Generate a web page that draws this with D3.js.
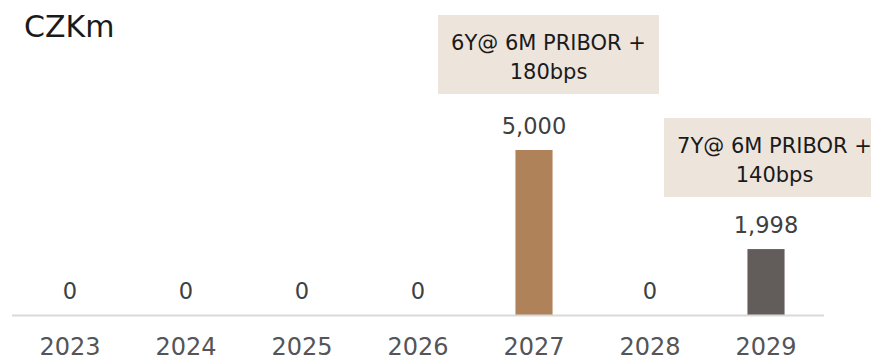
<!DOCTYPE html>
<html>
<head>
<meta charset="utf-8">
<script src="https://cdn.jsdelivr.net/npm/d3@7"></script>
<style>
  html, body { margin: 0; padding: 0; background: #fff; }
  svg { display: block; font-family: "DejaVu Sans", sans-serif; }
</style>
</head>
<body>
<svg id="chart" width="871" height="361"></svg>
<script>
// Maturity profile data (CZK millions)
const years = ["2023", "2024", "2025", "2026", "2027", "2028", "2029"];
const amounts = [0, 0, 0, 0, 5000, 0, 1998];
const barColors = ["#b08259", "#b08259", "#b08259", "#b08259", "#b08259", "#b08259", "#625d5b"];
const unitLabel = "CZKm";

// Note boxes attached to the issued bonds
const noteYears = ["2027", "2029"];
const noteLines = [
  ["6Y@ 6M PRIBOR +", "180bps"],
  ["7Y@ 6M PRIBOR +", "140bps"]
];

const svg = d3.select("#chart");
const baseY = 315;

const x = d3.scaleBand()
  .domain(years)
  .range([12, 824])
  .paddingInner(0.68)
  .paddingOuter(0.34);

const y = d3.scaleLinear()
  .domain([0, 5000])
  .range([baseY, 150]);

const fmt = d3.format(",");

// Unit title
svg.append("text")
  .attr("x", 24).attr("y", 37)
  .attr("font-size", 30)
  .attr("fill", "#1a1a1a")
  .text(unitLabel);

// Bars
svg.append("g").selectAll("rect")
  .data(years)
  .join("rect")
  .attr("x", d => x(d))
  .attr("width", x.bandwidth())
  .attr("y", (d, i) => y(amounts[i]))
  .attr("height", (d, i) => baseY - y(amounts[i]))
  .attr("fill", (d, i) => barColors[i]);

// Baseline
svg.append("line")
  .attr("x1", 12).attr("x2", 824)
  .attr("y1", baseY + 0.5).attr("y2", baseY + 0.5)
  .attr("stroke", "#d9d9d9")
  .attr("stroke-width", 2);

// Value labels
svg.append("g").selectAll("text")
  .data(years)
  .join("text")
  .attr("x", d => x(d) + x.bandwidth() / 2)
  .attr("y", (d, i) => y(amounts[i]) - 16)
  .attr("text-anchor", "middle")
  .attr("font-size", 22.5)
  .attr("fill", "#404040")
  .text((d, i) => fmt(amounts[i]));

// Category axis
const xAxis = svg.append("g")
  .attr("transform", `translate(0,${baseY})`)
  .call(d3.axisBottom(x).tickSize(0).tickPadding(0));
xAxis.select(".domain").remove();
xAxis.selectAll("text")
  .attr("dy", null)
  .attr("y", 40)
  .attr("font-size", 24)
  .attr("font-family", "DejaVu Sans, sans-serif")
  .attr("fill", "#555555");

// Note boxes above the bars
const noteLayout = [
  { dx: 14.5, gap: 56 },
  { dx: 8.5, gap: 52 }
];
const boxW = 221, boxH = 79;
noteYears.forEach((yr, k) => {
  const i = years.indexOf(yr);
  const cx = x(yr) + x.bandwidth() / 2 + noteLayout[k].dx;
  const bottom = y(amounts[i]) - noteLayout[k].gap;
  const top = bottom - boxH;
  const g = svg.append("g");
  g.append("rect")
    .attr("x", cx - boxW / 2).attr("y", top)
    .attr("width", boxW).attr("height", boxH)
    .attr("fill", "#ede4dc");
  g.selectAll("text")
    .data(noteLines[k])
    .join("text")
    .attr("x", cx)
    .attr("y", (d, j) => top + 35 + j * 29)
    .attr("text-anchor", "middle")
    .attr("font-size", 21)
    .attr("fill", "#1a1a1a")
    .text(d => d);
});
</script>
</body>
</html>
